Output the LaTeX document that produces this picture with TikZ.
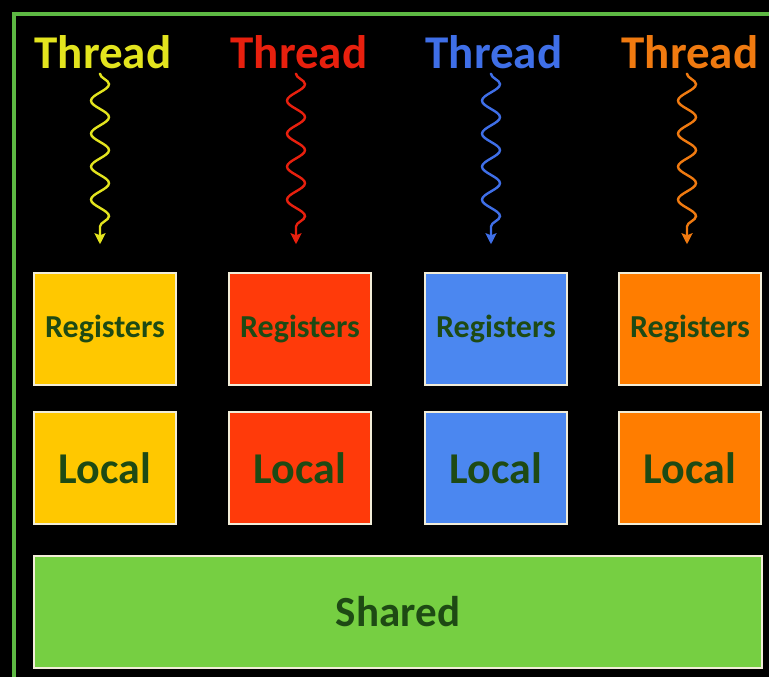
\documentclass[tikz,border=0pt]{standalone}
\usepackage{fontspec}
\setmainfont{Carlito}
\usepackage{tikz}
\usetikzlibrary{arrows.meta}
\usetikzlibrary{decorations.pathmorphing}

\definecolor{frameGreen}{HTML}{5DB843}
\definecolor{sharedGreen}{HTML}{76CF42}
\definecolor{textGreen}{HTML}{1E4A14}
\definecolor{boxEdge}{HTML}{F2EDD8}
\definecolor{yelBox}{HTML}{FFC800}
\definecolor{yelText}{HTML}{E3E41E}
\definecolor{redBox}{HTML}{FF3A0A}
\definecolor{redText}{HTML}{E8200E}
\definecolor{bluBox}{HTML}{4B87F0}
\definecolor{bluText}{HTML}{3F6FE8}
\definecolor{ornBox}{HTML}{FF7D00}
\definecolor{ornText}{HTML}{F07A10}

\begin{document}
\begin{tikzpicture}[x=1pt,y=1pt]
		\tikzset{thread/.style = {font=\fontsize{47}{47}\selectfont\bfseries,inner sep=0pt}}
		\tikzset{mem/.style = {draw=boxEdge,line width=1.5pt,minimum width=142pt,minimum height=112pt,text=textGreen,inner sep=0pt}}
		\tikzset{wave/.style = {line width=2.4pt,-{Stealth[length=11pt,width=11pt,inset=2pt]},decorate,decoration={snake,amplitude=9pt,segment length=33pt,pre length=1pt,post length=12pt}}}
		% background and frame
		\fill[black] (0,0) rectangle (769,-677);
		\fill[frameGreen] (12,-677) rectangle (16,-12);
		\fill[frameGreen] (12,-12) rectangle (769,-16);
		% threads
		\node[thread,text=yelText] (t1) at (103,-52) {Thread};
		\node[thread,text=redText] (t2) at (299,-52) {Thread};
		\node[thread,text=bluText] (t3) at (494,-52) {Thread};
		\node[thread,text=ornText] (t4) at (690,-52) {Thread};
		% registers
		\node[mem,fill=yelBox,font=\fontsize{32}{32}\selectfont\bfseries] (r1) at (105,-329) {Registers};
		\node[mem,fill=redBox,font=\fontsize{32}{32}\selectfont\bfseries] (r2) at (300,-329) {Registers};
		\node[mem,fill=bluBox,font=\fontsize{32}{32}\selectfont\bfseries] (r3) at (496,-329) {Registers};
		\node[mem,fill=ornBox,font=\fontsize{32}{32}\selectfont\bfseries] (r4) at (690,-329) {Registers};
		% local
		\node[mem,fill=yelBox,font=\fontsize{44}{44}\selectfont\bfseries] (l1) at (105,-468) {Local};
		\node[mem,fill=redBox,font=\fontsize{44}{44}\selectfont\bfseries] (l2) at (300,-468) {Local};
		\node[mem,fill=bluBox,font=\fontsize{44}{44}\selectfont\bfseries] (l3) at (496,-468) {Local};
		\node[mem,fill=ornBox,font=\fontsize{44}{44}\selectfont\bfseries] (l4) at (690,-468) {Local};
		% shared
		\node[mem,fill=sharedGreen,minimum width=728pt,font=\fontsize{43}{43}\selectfont\bfseries] (sh) at (398,-612) {Shared};
		% edges
		\draw[wave,yelText] (t1.south) ++(-3,-4) coordinate (a1) -- ([yshift=28pt]a1 |- r1.north);
		\draw[wave,redText] (t2.south) ++(-3,-4) coordinate (a2) -- ([yshift=28pt]a2 |- r2.north);
		\draw[wave,bluText] (t3.south) ++(-3,-4) coordinate (a3) -- ([yshift=28pt]a3 |- r3.north);
		\draw[wave,ornText] (t4.south) ++(-3,-4) coordinate (a4) -- ([yshift=28pt]a4 |- r4.north);
\end{tikzpicture}
\end{document}
